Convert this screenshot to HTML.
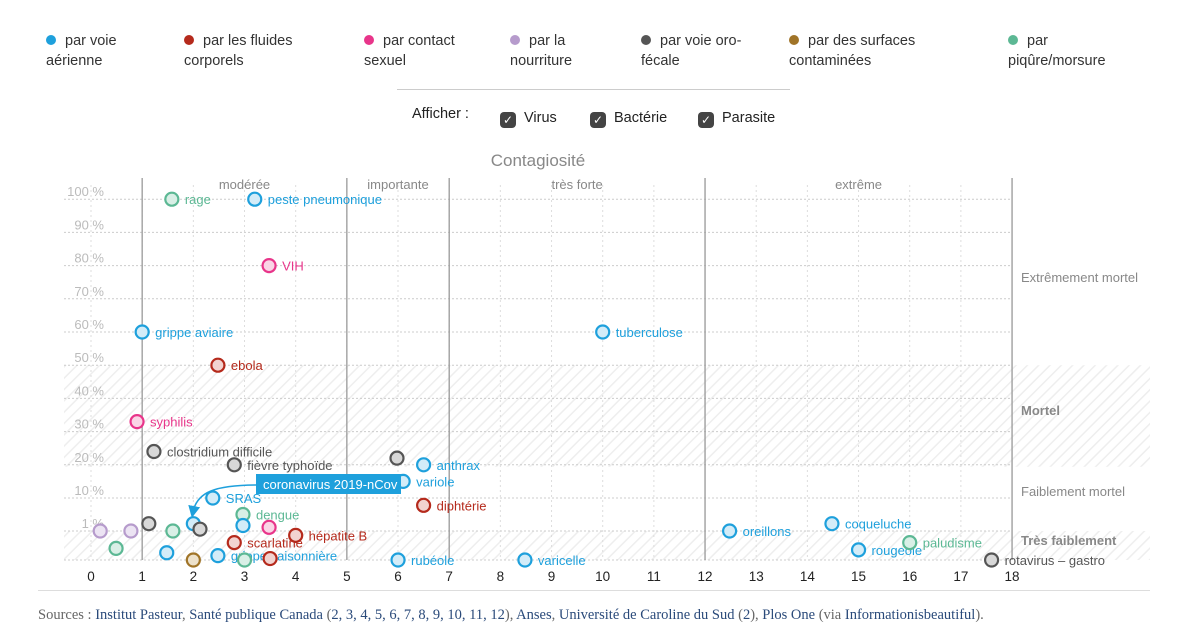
<!DOCTYPE html>
<html><head><meta charset="utf-8">
<style>
body{margin:0;width:1200px;height:636px;background:#fff;font-family:"Liberation Sans",sans-serif;overflow:hidden;position:relative}
.leg{position:absolute;top:31px;font-size:14.5px;color:#333;line-height:20px}
.leg i{display:inline-block;width:10px;height:10px;border-radius:50%;margin-right:9px}
.cb{position:absolute;top:106px;font-size:14.5px;color:#222}
.cb b{display:inline-block;width:16px;height:16px;background:#444;border-radius:4px;color:#fff;font-size:12px;line-height:16px;text-align:center;vertical-align:-2px;margin-right:8px;font-weight:normal}
</style></head><body>
<div class="leg" style="left:46px"><i style="background:#1ea0dc"></i>par voie<br>aérienne</div>
<div class="leg" style="left:184px"><i style="background:#b52a1c"></i>par les fluides<br>corporels</div>
<div class="leg" style="left:364px"><i style="background:#e8358a"></i>par contact<br>sexuel</div>
<div class="leg" style="left:510px"><i style="background:#b69bcc"></i>par la<br>nourriture</div>
<div class="leg" style="left:641px"><i style="background:#555"></i>par voie oro-<br>fécale</div>
<div class="leg" style="left:789px"><i style="background:#a07428"></i>par des surfaces<br>contaminées</div>
<div class="leg" style="left:1008px"><i style="background:#5cb894"></i>par<br>piqûre/morsure</div>
<div style="position:absolute;left:397px;top:89px;width:393px;height:1px;background:#ccc"></div>
<div class="cb" style="left:412px">Afficher :</div>
<div class="cb" style="left:500px;top:110px"><b>✓</b>Virus</div>
<div class="cb" style="left:590px;top:110px"><b>✓</b>Bactérie</div>
<div class="cb" style="left:698px;top:110px"><b>✓</b>Parasite</div>
<svg id="ch" width="1200" height="636" style="position:absolute;left:0;top:0">
<defs><pattern id="h" width="8" height="8" patternUnits="userSpaceOnUse" patternTransform="rotate(45)"><rect width="8" height="8" fill="#fff"/><line x1="0" y1="0" x2="0" y2="8" stroke="#eee" stroke-width="3"/></pattern>
<marker id="ar" markerWidth="8" markerHeight="8" refX="4" refY="4" orient="auto"><path d="M0,0L8,4L0,8z" fill="#1ea0dc"/></marker></defs>
</svg>
<div style="position:absolute;left:38px;top:590px;width:1112px;height:1px;background:#ddd"></div>
<div style="position:absolute;left:38px;top:607px;font-family:'Liberation Serif',serif;font-size:14.5px;color:#666">Sources : <span style="color:#2a4a7a">Institut Pasteur</span>, <span style="color:#2a4a7a">Santé publique Canada</span> (<span style="color:#2a4a7a">2, 3, 4, 5, 6, 7, 8, 9, 10, 11, 12</span>), <span style="color:#2a4a7a">Anses</span>, <span style="color:#2a4a7a">Université de Caroline du Sud</span> (<span style="color:#2a4a7a">2</span>), <span style="color:#2a4a7a">Plos One</span> (via <span style="color:#2a4a7a">Informationisbeautiful</span>).</div>
<script>
const names=["rage","peste pneumonique","VIH","grippe aviaire","tuberculose","ebola","syphilis","clostridium difficile","fièvre typhoïde","","anthrax","variole","SRAS","diphtérie","dengue","","","","","","","","","hépatite B","scarlatine","","","","grippe saisonnière","","","rubéole","varicelle","oreillons","coqueluche","rougeole","paludisme","rotavirus – gastro"];
const contag=[1.58,3.2,3.48,1.0,10,2.48,0.9,1.23,2.8,5.98,6.5,6.1,2.38,6.5,2.97,0.18,0.78,1.13,1.6,2.0,2.13,2.97,3.48,4.0,2.8,0.49,1.48,2.0,2.48,3.0,3.5,6.0,8.48,12.48,14.48,15,16,17.6];
const mortal=[100,100,80,60,60,50,33,24,20,22,20,15,10,8,5.5,1,1,3,1,3,1.5,2.5,2,0.85,0.6,0.4,0.25,0,0.15,0,0.05,0,0,1,3,0.35,0.6,0];
const mode=["g","b","p","b","b","r","p","k","k","k","b","b","b","r","g","u","u","k","g","b","k","b","p","r","r","g","b","o","b","g","r","b","b","b","b","b","g","k"];
const xTicks=[0,1,2,3,4,5,6,7,8,9,10,11,12,13,14,15,16,17,18];
const yTicks=[100,90,80,70,60,50,40,30,20,10,1];
const zones=["modérée","importante","très forte","extrême"];
const zoneBounds=[1,5,7,12,18];
const C={b:"#1ea0dc",r:"#b52a1c",p:"#e8358a",u:"#b69bcc",k:"#555",o:"#a07428",g:"#5cb894"};
const F={b:"#d3ecf8",r:"#f2d3d0",p:"#fad5e6",u:"#ece4f3",k:"#d8d8d8",o:"#ede2cc",g:"#d9efe6"};
const X=v=>91+v*51.17;
const Y=v=>v>=10?498-(v-10)*3.32:(v>=1?531-(v-1)*33/9:560-v*29);
const s=document.getElementById('ch');const NS="http://www.w3.org/2000/svg";
function el(t,a,txt){const e=document.createElementNS(NS,t);for(const k in a)e.setAttribute(k,a[k]);if(txt!==undefined)e.textContent=txt;s.appendChild(e);return e;}
let e;
e=el('rect',{x:64,y:Y(50),width:1086,height:Y(20)-Y(50)+2,fill:'url(#h)'});
e=el('rect',{x:64,y:Y(1),width:1086,height:Y(0)-Y(1),fill:'url(#h)'});
yTicks.forEach(v=>{e=el('line',{x1:64,x2:1012,y1:Y(v),y2:Y(v),stroke:'#ccc','stroke-dasharray':'2,2'});
e=el('text',{x:104,y:Y(v)-3,'text-anchor':'end','font-size':13,fill:'#bbb'},v+' %');});
e=el('line',{x1:64,x2:1012,y1:Y(0),y2:Y(0),stroke:'#ccc','stroke-dasharray':'2,2'});
xTicks.forEach(v=>{e=el('line',{x1:X(v),x2:X(v),y1:185,y2:560,stroke:'#ddd','stroke-dasharray':'2,3'});
e=el('text',{x:X(v),y:581,'text-anchor':'middle','font-size':13.5,fill:'#222'},v);});
zoneBounds.forEach(v=>{e=el('line',{x1:X(v),x2:X(v),y1:178,y2:560,stroke:'#999','stroke-width':1.3});});
zones.forEach((z,i)=>{e=el('text',{x:(X(zoneBounds[i])+X(zoneBounds[i+1]))/2,y:189,'text-anchor':'middle','font-size':13,fill:'#888'},z);});
e=el('text',{x:538,y:166,'text-anchor':'middle','font-size':17,fill:'#888'},'Contagiosité');
[["Extrêmement mortel",282,false],["Mortel",415,true],["Faiblement mortel",496,false],["Très faiblement",545,true]].forEach(a=>{e=el('text',{x:1021,y:a[1],'font-size':13,fill:'#888','font-weight':a[2]?'bold':'normal'},a[0]);});
contag.forEach((c,i)=>{const m=mode[i];
e=el('circle',{cx:X(c),cy:Y(mortal[i]),r:6.5,fill:F[m],stroke:C[m],'stroke-width':2.2});
if(names[i]){e=el('text',{x:X(c)+13,y:Y(mortal[i])+5,'font-size':13,fill:C[m]},names[i]);}});
e=el('path',{d:'M258,485 C215,485 197,492 193,512',fill:'none',stroke:'#1ea0dc','stroke-width':1.5,'marker-end':'url(#ar)'});
e=el('rect',{x:256,y:474,width:145,height:20,fill:'#1ea0dc'});
e=el('text',{x:263,y:489,'font-size':13,fill:'#fff'},'coronavirus 2019-nCov');
</script>
</body></html>
